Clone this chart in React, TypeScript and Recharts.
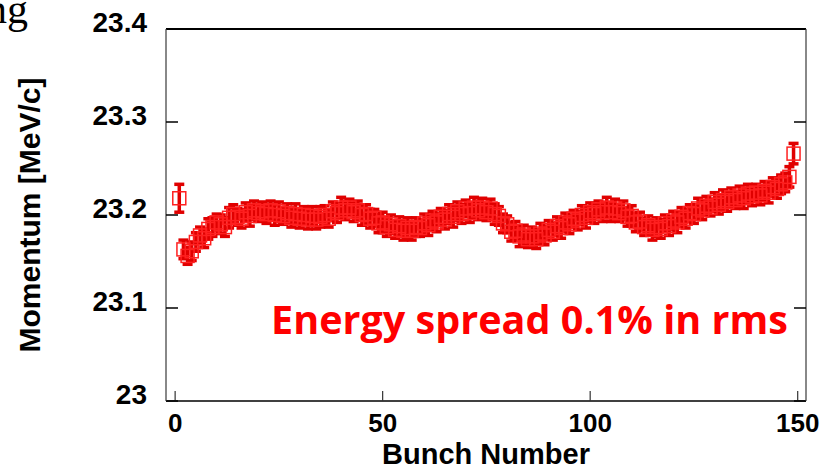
import React from 'react';
import { ScatterChart, Scatter, XAxis, YAxis, ErrorBar } from 'recharts';

const bunchValues: number[] = [
  23.218, 23.163, 23.156, 23.161, 23.171, 23.178, 23.175, 23.185, 23.187, 23.192,
  23.190, 23.187, 23.197, 23.201, 23.198, 23.196, 23.203, 23.199, 23.205, 23.202,
  23.204, 23.201, 23.205, 23.200, 23.204, 23.199, 23.202, 23.197, 23.201, 23.196,
  23.200, 23.195, 23.199, 23.195, 23.198, 23.200, 23.196, 23.204, 23.202, 23.208,
  23.205, 23.208, 23.203, 23.205, 23.200, 23.201, 23.196, 23.197, 23.191, 23.192,
  23.187, 23.190, 23.184, 23.188, 23.183, 23.186, 23.183, 23.187, 23.186, 23.191,
  23.189, 23.194, 23.192, 23.198, 23.195, 23.201, 23.198, 23.204, 23.201, 23.207,
  23.202, 23.208, 23.205, 23.208, 23.203, 23.207, 23.201, 23.199, 23.191, 23.190,
  23.182, 23.183, 23.177, 23.179, 23.174, 23.177, 23.174, 23.180, 23.178, 23.184,
  23.182, 23.188, 23.186, 23.192, 23.190, 23.196, 23.194, 23.200, 23.197, 23.203,
  23.201, 23.206, 23.203, 23.208, 23.203, 23.207, 23.202, 23.205, 23.198, 23.199,
  23.192, 23.193, 23.187, 23.189, 23.184, 23.187, 23.185, 23.191, 23.188, 23.194,
  23.192, 23.198, 23.196, 23.202, 23.201, 23.207, 23.205, 23.210, 23.208, 23.214,
  23.211, 23.216, 23.214, 23.219, 23.216, 23.221, 23.218, 23.223, 23.220, 23.224,
  23.221, 23.226, 23.224, 23.230, 23.228, 23.233, 23.235, 23.241, 23.266,
];

const bunchErrors: number[] = [
  0.015, 0.010, 0.009, 0.010, 0.010, 0.009, 0.010, 0.011, 0.010, 0.009,
  0.010, 0.010, 0.011, 0.010, 0.009, 0.010, 0.010, 0.011, 0.010, 0.009,
  0.010, 0.010, 0.010, 0.011, 0.010, 0.009, 0.010, 0.010, 0.011, 0.010,
  0.009, 0.010, 0.010, 0.010, 0.011, 0.010, 0.009, 0.010, 0.010, 0.011,
  0.010, 0.009, 0.010, 0.010, 0.011, 0.010, 0.010, 0.009, 0.010, 0.011,
  0.010, 0.010, 0.009, 0.010, 0.010, 0.011, 0.010, 0.010, 0.009, 0.010,
  0.011, 0.010, 0.010, 0.009, 0.010, 0.010, 0.011, 0.010, 0.010, 0.009,
  0.010, 0.011, 0.010, 0.010, 0.009, 0.010, 0.011, 0.010, 0.010, 0.009,
  0.010, 0.010, 0.011, 0.010, 0.009, 0.010, 0.010, 0.011, 0.010, 0.010,
  0.009, 0.010, 0.011, 0.010, 0.010, 0.009, 0.010, 0.010, 0.011, 0.010,
  0.010, 0.009, 0.010, 0.011, 0.010, 0.010, 0.009, 0.010, 0.010, 0.011,
  0.010, 0.010, 0.009, 0.010, 0.011, 0.010, 0.010, 0.009, 0.010, 0.010,
  0.011, 0.010, 0.010, 0.009, 0.010, 0.011, 0.010, 0.010, 0.009, 0.010,
  0.010, 0.011, 0.010, 0.010, 0.009, 0.010, 0.011, 0.010, 0.010, 0.009,
  0.010, 0.010, 0.011, 0.010, 0.010, 0.010, 0.010, 0.011, 0.011,
];

const xTicks: number[] = [0, 50, 100, 150];
const yTicks: number[] = [23, 23.1, 23.2, 23.3, 23.4];
const xDomain: [number, number] = [-2.2, 152];
const yDomain: [number, number] = [23, 23.4];

const xTitle = 'Bunch Number';
const yTitle = 'Momentum [MeV/c]';
const note = 'Energy spread 0.1% in rms';

const chartData = bunchValues.map((v, i) => ({ bunch: i + 1, p: v, err: bunchErrors[i] }));

const FONT = '"Liberation Sans", Arial, sans-serif';

const yTickLabel = (props: any) => {
  const { x, y, payload } = props;
  return (
    <text x={x} y={y + 28 * 0.35 - 7} textAnchor="end" fontFamily={FONT} fontWeight="bold" fontSize={28} fill="#000">
      {String(payload.value)}
    </text>
  );
};

const xTickLabel = (props: any) => {
  const { x, y, payload } = props;
  return (
    <text x={x} y={y + 31} textAnchor="middle" fontFamily={FONT} fontWeight="bold" fontSize={26} fill="#000">
      {String(payload.value)}
    </text>
  );
};

const SquareMarker = (props: any) => {
  const { cx, cy } = props;
  if (cx == null || cy == null) return null;
  return <rect x={cx - 6.5} y={cy - 6.5} width={13} height={13} fill="none" stroke="#ff2020" strokeWidth={1.5} />;
};

export default function App() {
  return (
    <div style={{ position: 'absolute', left: 0, top: 0, width: 831, height: 469, background: '#fff', overflow: 'hidden' }}>
      <ScatterChart width={831} height={469} margin={{ top: 24, right: 15, bottom: 8, left: 66 }}>
        <XAxis
          type="number"
          dataKey="bunch"
          domain={xDomain}
          ticks={xTicks}
          allowDataOverflow
          height={60}
          tickSize={-10}
          tickMargin={10}
          axisLine={{ stroke: '#000', strokeWidth: 1.5 }}
          tickLine={{ stroke: '#333', strokeWidth: 1.2 }}
          tick={xTickLabel}
          label={{
            content: (p: any) => {
              const vb = p.viewBox || { x: 166, y: 401, width: 640, height: 60 };
              return (
                <text x={vb.x + vb.width / 2} y={vb.y + 63} textAnchor="middle" fontFamily={FONT} fontWeight="bold" fontSize={29} fill="#000">
                  {xTitle}
                </text>
              );
            },
          }}
        />
        <XAxis
          xAxisId="top"
          orientation="top"
          type="number"
          domain={xDomain}
          ticks={xTicks}
          allowDataOverflow
          height={5}
          tickSize={-10}
          tickFormatter={() => ''}
          axisLine={{ stroke: '#000', strokeWidth: 2 }}
          tickLine={{ stroke: '#666', strokeWidth: 1.5 }}
        />
        <YAxis
          type="number"
          dataKey="p"
          domain={yDomain}
          ticks={yTicks}
          allowDataOverflow
          width={100}
          tickSize={-12}
          tickMargin={31}
          axisLine={{ stroke: '#888', strokeWidth: 2 }}
          tickLine={{ stroke: '#000', strokeWidth: 1.5 }}
          tick={yTickLabel}
          label={{
            content: (p: any) => {
              const vb = p.viewBox || { x: 66, y: 29, width: 100, height: 372 };
              const cx = vb.x - 37;
              const cy = vb.y + vb.height / 2;
              return (
                <text x={cx} y={cy} transform={`rotate(-90 ${cx} ${cy})`} textAnchor="middle" dominantBaseline="central" fontFamily={FONT} fontWeight="bold" fontSize={30} fill="#000">
                  {yTitle}
                </text>
              );
            },
          }}
        />
        <YAxis
          yAxisId="right"
          orientation="right"
          type="number"
          domain={yDomain}
          ticks={yTicks}
          allowDataOverflow
          width={10}
          tickSize={-12}
          tickFormatter={() => ''}
          axisLine={{ stroke: '#888', strokeWidth: 2 }}
          tickLine={{ stroke: '#000', strokeWidth: 1.5 }}
        />
        <Scatter data={chartData} dataKey="p" isAnimationActive={false} shape={SquareMarker}>
          <ErrorBar dataKey="err" direction="y" width={5} stroke="#e00000" strokeWidth={3.5} isAnimationActive={false} />
        </Scatter>
      </ScatterChart>
      <svg width={831} height={469} style={{ position: 'absolute', left: 0, top: 0, pointerEvents: 'none' }}>
        <text x={28} y={23} textAnchor="end" fontFamily='"Liberation Serif", "DejaVu Serif", serif' fontSize={42} fill="#000">ng</text>
        <text x={271} y={334} textLength={517} lengthAdjust="spacingAndGlyphs" fontFamily='"Open Sans", "Noto Sans", sans-serif' fontWeight="bold" fontSize={39} fill="#ff0000">
          {note}
        </text>
      </svg>
    </div>
  );
}
